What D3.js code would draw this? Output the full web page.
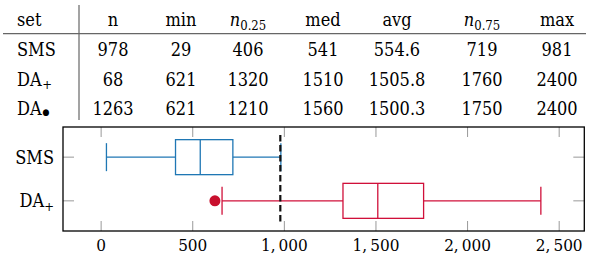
<!DOCTYPE html>
<html>
<head>
<meta charset="utf-8">
<script src="https://cdn.jsdelivr.net/npm/d3@7"></script>
<style>
  body { margin: 0; background: #fff; }
  svg { display: block; }
  text { font-family: "DejaVu Serif Condensed", "DejaVu Serif", serif; fill: #000; }
</style>
</head>
<body>
<div id="chart"></div>
<script>
// table data
const sets = ["SMS", "DA+", "DA•"];
const colN = [978, 68, 1263];
const colMin = [29, 621, 621];
const colQ1 = [406, 1320, 1210];
const colMed = [541, 1510, 1560];
const colAvg = ["554.6", "1505.8", "1500.3"];
const colQ3 = [719, 1760, 1750];
const colMax = [981, 2400, 2400];

// box plot data (SMS and DA+)
const boxSets = ["SMS", "DA+"];
const boxLow = [29, 660];
const boxQ1 = [406, 1320];
const boxMed = [541, 1510];
const boxQ3 = [719, 1760];
const boxHigh = [981, 2400];
const outliers = [[], [621]];
const threshold = 978;
const xTicks = [0, 500, 1000, 1500, 2000, 2500];
const colors = ["#1f77b4", "#d0103a"];

const W = 589, H = 261;
const svg = d3.select("#chart").append("svg")
    .attr("width", W)
    .attr("height", H);

// ---- table ----
const fs = 18;
const rowY = [56, 85.5, 114.5];
const headY = 26;
const colX = [113, 181, 248, 323, 397, 482, 557];
const cols = [colN, colMin, colQ1, colMed, colAvg, colQ3, colMax];

// rules
svg.append("line")
    .attr("x1", 3).attr("x2", 586)
    .attr("y1", 33.7).attr("y2", 33.7)
    .attr("stroke", "#666").attr("stroke-width", 1.2);
svg.append("line")
    .attr("x1", 79).attr("x2", 79)
    .attr("y1", 5).attr("y2", 120)
    .attr("stroke", "#666").attr("stroke-width", 1.2);

const head = svg.append("g").attr("font-size", fs);
head.append("text").attr("x", 17).attr("y", headY).text("set");
const headers = ["n", "min", "q25", "med", "avg", "q75", "max"];
headers.forEach((h, i) => {
    const t = head.append("text")
        .attr("x", colX[i]).attr("y", headY)
        .attr("text-anchor", "middle");
    if (h === "q25" || h === "q75") {
        t.append("tspan").attr("font-style", "italic").text("n");
        t.append("tspan").attr("font-size", 13).attr("dy", 4)
            .text(h === "q25" ? "0.25" : "0.75");
    } else {
        t.text(h);
    }
});

const body = svg.append("g").attr("font-size", fs);
sets.forEach((s, r) => {
    const t = body.append("text").attr("x", 17).attr("y", rowY[r]);
    if (s === "SMS") {
        t.text("SMS");
    } else {
        t.append("tspan").text("DA");
        const sub = s === "DA+" ? "+" : "●";
        t.append("tspan")
            .attr("font-size", s === "DA+" ? 13 : 9)
            .attr("dy", s === "DA+" ? 3.5 : 0)
            .attr("dx", 0.5)
            .text(sub);
    }
    cols.forEach((c, i) => {
        body.append("text")
            .attr("x", colX[i]).attr("y", rowY[r])
            .attr("text-anchor", "middle")
            .text(c[r]);
    });
});

// ---- box plot ----
const pLeft = 63, pRight = 584.3, pTop = 127, pBottom = 231;
const lo = d3.min(boxLow), hi = d3.max(boxHigh);
const pad = (hi - lo) * 0.1;
const x = d3.scaleLinear().domain([lo - pad, hi + pad]).range([pLeft, pRight]);
const y = d3.scalePoint().domain(boxSets).range([pTop, pBottom]).padding(0.69);

const g = svg.append("g");
const tickLen = 10;

// x ticks (gray, inside top and bottom)
xTicks.forEach(v => {
    g.append("line").attr("x1", x(v)).attr("x2", x(v))
        .attr("y1", pTop).attr("y2", pTop + tickLen)
        .attr("stroke", "#999").attr("stroke-width", 1);
    g.append("line").attr("x1", x(v)).attr("x2", x(v))
        .attr("y1", pBottom - tickLen).attr("y2", pBottom)
        .attr("stroke", "#999").attr("stroke-width", 1);
});
// y ticks
boxSets.forEach(s => {
    g.append("line").attr("x1", pLeft).attr("x2", pLeft + tickLen + 1)
        .attr("y1", y(s)).attr("y2", y(s))
        .attr("stroke", "#999").attr("stroke-width", 1);
    g.append("line").attr("x1", pRight - tickLen - 1).attr("x2", pRight)
        .attr("y1", y(s)).attr("y2", y(s))
        .attr("stroke", "#999").attr("stroke-width", 1);
});

// x labels (math-style comma with thin space)
g.append("g").attr("font-size", 17).selectAll("text")
    .data(xTicks).join("text")
    .attr("x", d => x(d)).attr("y", 251)
    .attr("text-anchor", "middle")
    .text(d => d3.format(",")(d).replace(",", ",\u2009"));

// y labels
boxSets.forEach(s => {
    const t = g.append("text")
        .attr("x", 54).attr("y", y(s) + 6.5)
        .attr("font-size", fs)
        .attr("text-anchor", "end");
    if (s === "SMS") t.text("SMS");
    else {
        t.append("tspan").text("DA");
        t.append("tspan").attr("font-size", 13).attr("dy", 3.5).text("+");
    }
});

// boxes
const bh = 17.5, ch = 14;
boxSets.forEach((s, i) => {
    const c = colors[i], cy = y(s);
    const bg = g.append("g").attr("stroke", c).attr("stroke-width", 1.3).attr("fill", "none");
    bg.append("line").attr("x1", x(boxLow[i])).attr("x2", x(boxQ1[i])).attr("y1", cy).attr("y2", cy);
    bg.append("line").attr("x1", x(boxQ3[i])).attr("x2", x(boxHigh[i])).attr("y1", cy).attr("y2", cy);
    bg.append("line").attr("x1", x(boxLow[i])).attr("x2", x(boxLow[i])).attr("y1", cy - ch).attr("y2", cy + ch);
    bg.append("line").attr("x1", x(boxHigh[i])).attr("x2", x(boxHigh[i])).attr("y1", cy - ch).attr("y2", cy + ch);
    bg.append("rect").attr("x", x(boxQ1[i])).attr("y", cy - bh)
        .attr("width", x(boxQ3[i]) - x(boxQ1[i])).attr("height", 2 * bh);
    bg.append("line").attr("x1", x(boxMed[i])).attr("x2", x(boxMed[i])).attr("y1", cy - bh).attr("y2", cy + bh);
    outliers[i].forEach(o => {
        g.append("circle").attr("cx", x(o)).attr("cy", cy).attr("r", 5.5)
            .attr("fill", "#c8102e");
    });
});

// threshold line
g.append("line")
    .attr("x1", x(threshold)).attr("x2", x(threshold))
    .attr("y1", pTop + 8).attr("y2", pBottom - 8)
    .attr("stroke", "#111").attr("stroke-width", 2.2)
    .attr("stroke-dasharray", "6.5,3.5");

// frame
g.append("rect")
    .attr("x", pLeft).attr("y", pTop)
    .attr("width", pRight - pLeft).attr("height", pBottom - pTop)
    .attr("fill", "none").attr("stroke", "#000").attr("stroke-width", 1.3);
</script>
</body>
</html>
